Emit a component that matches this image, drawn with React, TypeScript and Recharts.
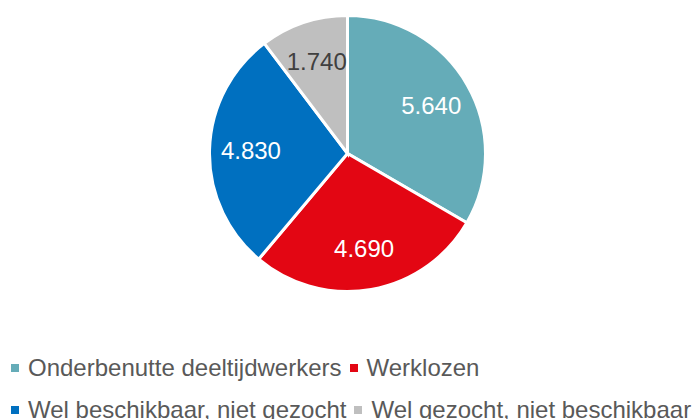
import { Cell, Legend, Pie, PieChart } from "recharts";

const categories = [
  "Onderbenutte deeltijdwerkers",
  "Werklozen",
  "Wel beschikbaar, niet gezocht",
  "Wel gezocht, niet beschikbaar",
];
const values = [5640, 4690, 4830, 1740];
const colors = ["#65ACB8", "#E30613", "#0070C0", "#BFBFBF"];
const labelColors = ["#FFFFFF", "#FFFFFF", "#FFFFFF", "#404040"];

const data = categories.map((name, i) => ({ name, value: values[i] }));

const RAD = Math.PI / 180;
const font = "'Liberation Sans', Arial, sans-serif";

const formatNl = (v: number) =>
  String(v).replace(/\B(?=(\d{3})+(?!\d))/g, ".");

const renderLabel = (props: any) => {
  const { cx, cy, midAngle, outerRadius, value, index } = props;
  const r = outerRadius * 0.7;
  const x = cx + r * Math.cos(-midAngle * RAD);
  const y = cy + r * Math.sin(-midAngle * RAD);
  return (
    <text
      x={x}
      y={y}
      fill={labelColors[index]}
      textAnchor="middle"
      dominantBaseline="central"
      fontSize={24}
      fontFamily={font}
    >
      {formatNl(value)}
    </text>
  );
};

const LegendRows = () => {
  const rows = [
    [0, 1],
    [2, 3],
  ];
  return (
    <div style={{ fontFamily: font, fontSize: 24, color: "#595959" }}>
      {rows.map((row, ri) => (
        <div
          key={ri}
          style={{ display: "flex", alignItems: "center", height: 42, paddingLeft: 11 }}
        >
          {row.map((i) => (
            <div
              key={i}
              style={{ display: "flex", alignItems: "center", marginRight: 8 }}
            >
              <span
                style={{
                  width: 8,
                  height: 8,
                  background: colors[i],
                  marginRight: 9,
                  display: "inline-block",
                }}
              />
              <span style={{ whiteSpace: "nowrap" }}>{categories[i]}</span>
            </div>
          ))}
        </div>
      ))}
    </div>
  );
};

export default function App() {
  return (
    <div style={{ position: "absolute", left: 0, top: 0, background: "#fff" }}>
      <PieChart
        width={695}
        height={419}
        margin={{ top: 0, right: 0, bottom: 0, left: 0 }}
      >
        <Pie
          data={data}
          dataKey="value"
          nameKey="name"
          cx={347.5}
          cy={153.5}
          outerRadius={138}
          startAngle={90}
          endAngle={-270}
          stroke="#FFFFFF"
          strokeWidth={3}
          label={renderLabel}
          labelLine={false}
          isAnimationActive={false}
        >
          {data.map((d, i) => (
            <Cell key={d.name} fill={colors[i]} />
          ))}
        </Pie>
        <Legend
          content={<LegendRows />}
          wrapperStyle={{ left: 0, top: 347, width: 695 }}
        />
      </PieChart>
    </div>
  );
}
